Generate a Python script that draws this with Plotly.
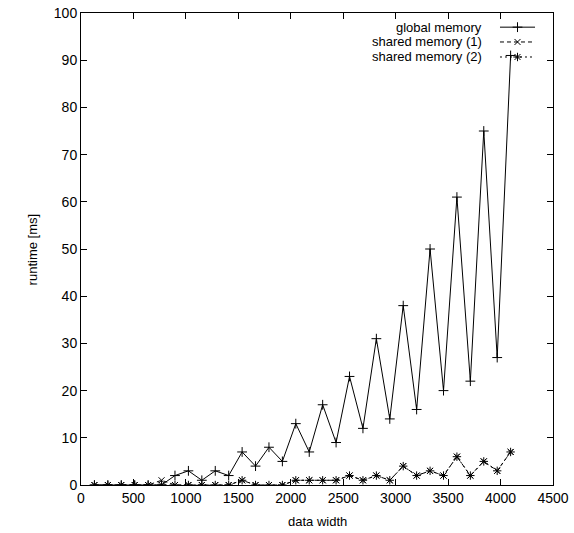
import plotly.graph_objects as go

data_width = [128 * k for k in range(1, 33)]
global_memory = [0, 0, 0, 0, 0, 0, 2, 3, 1, 3, 2, 7, 4, 8, 5, 13,
                 7, 17, 9, 23, 12, 31, 14, 38, 16, 50, 20, 61, 22, 75, 27, 91]
shared_memory_1 = [0, 0, 0, 0, 0, 1, 0, 0, 0, 0, 0, 1, 0, 0, 0, 1,
                   1, 1, 1, 2, 1, 2, 1, 4, 2, 3, 2, 6, 2, 5, 3, 7]
shared_memory_2 = [0, 0, 0, 0, 0, 0, 0, 0, 0, 0, 0, 1, 0, 0, 0, 1,
                   1, 1, 1, 2, 1, 2, 1, 4, 2, 3, 2, 6, 2, 5, 3, 7]
series_names = ["global memory", "shared memory (1)", "shared memory (2)"]
x_title = "data width"
y_title = "runtime [ms]"

FONT = "Liberation Sans, Arial, Helvetica, sans-serif"
styles = [
    dict(dash="solid", symbol="cross-thin", size=7),
    dict(dash="4px,3px", symbol="x-thin", size=6),
    dict(dash="2px,3px", symbol="asterisk-open", size=7),
]
series = [global_memory, shared_memory_1, shared_memory_2]

fig = go.Figure()
for name, ys, st in zip(series_names, series, styles):
    fig.add_trace(go.Scatter(
        x=data_width, y=ys, name=name, mode="lines+markers",
        line=dict(color="black", width=1, dash=st["dash"]),
        marker=dict(symbol=st["symbol"], size=st["size"], color="black",
                    line=dict(color="black", width=1)),
        showlegend=False,
    ))

# custom gnuplot-style key (text on left, sample on right)
row_y = [0.970, 0.9386, 0.9068]
for name, st, ry in zip(series_names, styles, row_y):
    fig.add_annotation(x=0.852, y=ry, xref="paper", yref="paper",
                       text=name, showarrow=False, xanchor="right",
                       yanchor="middle", borderpad=0,
                       font=dict(family=FONT, size=13, color="black"))
    fig.add_shape(type="line", xref="paper", yref="paper",
                  x0=0.8877, x1=0.9619, y0=ry, y1=ry,
                  line=dict(color="black", width=1, dash=st["dash"]))
    fig.add_trace(go.Scatter(
        x=[0.9248], y=[ry], xaxis="x2", yaxis="y2", mode="markers",
        marker=dict(symbol=st["symbol"], size=st["size"], color="black",
                    line=dict(color="black", width=1)),
        showlegend=False, hoverinfo="skip",
    ))

# axis titles
fig.add_annotation(x=0.5, y=-0.058, xref="paper", yref="paper", text=x_title,
                   showarrow=False, xanchor="center", yanchor="top",
                   font=dict(family=FONT, size=13, color="black"))
fig.add_annotation(x=-0.103, y=0.5, xref="paper", yref="paper", text=y_title,
                   showarrow=False, xanchor="center", yanchor="middle", textangle=-90,
                   font=dict(family=FONT, size=13, color="black"))

axis_common = dict(
    showline=True, linecolor="black", linewidth=1, mirror="ticks",
    ticks="inside", ticklen=6, tickcolor="black", tickwidth=1,
    showgrid=False, zeroline=False, automargin=False,
    ticklabeloverflow="allow",
    tickfont=dict(family=FONT, size=14, color="black"),
)

fig.update_layout(
    width=574, height=533,
    margin=dict(l=81, r=21, t=13, b=48),
    paper_bgcolor="white", plot_bgcolor="white",
    font=dict(family=FONT, size=14, color="black"),
    xaxis=dict(range=[0, 4500], dtick=500, tick0=0, **axis_common),
    yaxis=dict(range=[0, 100], dtick=10, tick0=0, **axis_common),
    xaxis2=dict(overlaying="x", range=[0, 1], visible=False, fixedrange=True),
    yaxis2=dict(overlaying="y", range=[0, 1], visible=False, fixedrange=True),
    showlegend=False,
    hovermode=False,
)

# remove the default 8px page margin so the figure sits at the window's corner
fig.write_html("out.html",
               config={"displayModeBar": False},
               post_script="document.body.style.margin='0';document.body.style.overflow='hidden';")
